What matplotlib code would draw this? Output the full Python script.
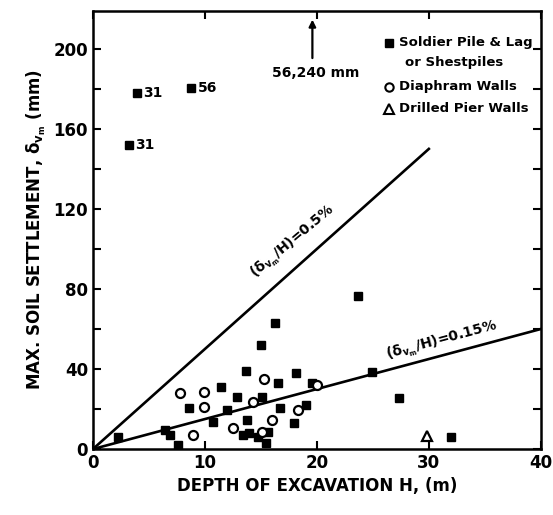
import matplotlib
matplotlib.use("Agg")
import matplotlib.pyplot as plt

plt.rcParams["mathtext.default"] = "bf"

# Soldier pile & lagging / sheetpiles
sp_h = [2.2, 6.4, 6.9, 7.6, 8.6, 10.7, 11.4, 12.0, 12.9, 13.4, 13.7, 13.75, 13.9,
        14.7, 15.0, 15.1, 15.5, 15.6, 16.3, 16.5, 16.7, 18.0, 18.1, 19.0, 19.6,
        23.7, 24.9, 27.3, 32.0, 3.9, 3.2, 8.8]
sp_d = [6, 9.5, 7, 2, 20.5, 13.5, 31, 19.5, 26, 7, 39, 14.5, 8,
        6, 52, 26, 3, 8.5, 63, 33, 20.5, 13, 38, 22, 33,
        76.5, 38.5, 25.5, 6, 178, 152, 180.5]

# diaphragm walls
dw_h = [7.8, 9.9, 9.9, 8.9, 12.5, 14.3, 15.3, 15.1, 16.0, 18.3, 20.0]
dw_d = [28, 28.5, 21, 7, 10.5, 23.5, 35, 8.5, 14.5, 19.5, 32]

# drilled pier walls
dp_h = [29.8]
dp_d = [6.5]

# labelled outliers
out_h = [3.9, 3.2, 8.8]
out_d = [178, 152, 180.5]
out_lbl = ["31", "31", "56"]

# limit lines (ratio in %)
line_ratio = [0.5, 0.15]
line_hmax = [30, 40]

bold = dict(fontweight="bold", family="DejaVu Sans")

fig = plt.figure(figsize=(5.53, 5.15), dpi=100)
ax = fig.add_axes([0.168, 0.128, 0.810, 0.851])

for r, hm in zip(line_ratio, line_hmax):
    ax.plot([0, hm], [0, r * 10 * hm], color="black", lw=1.9, zorder=2)

ax.plot(sp_h, sp_d, "s", color="black", ms=6, zorder=3)
ax.plot(dw_h, dw_d, "o", mfc="white", mec="black", mew=1.6, ms=6.5, zorder=4)
ax.plot(dp_h, dp_d, "^", mfc="white", mec="black", mew=1.6, ms=7, zorder=4)

for h, d, t in zip(out_h, out_d, out_lbl):
    ax.text(h + 0.6, d, t, va="center", ha="left", fontsize=10, **bold)

# off-scale point
ax.annotate("", xy=(19.6, 216), xytext=(19.6, 194),
            arrowprops=dict(arrowstyle="-|>", color="black", lw=1.6,
                            mutation_scale=10))
ax.text(19.9, 188, "56,240 mm", ha="center", va="center", fontsize=10, **bold)

ax.text(17.9, 103.5, r"$(\delta_{v_m}/H)$=0.5%", rotation=40, ha="center",
        va="center", fontsize=10, **bold)
ax.text(31.2, 54, r"$(\delta_{v_m}/H)$=0.15%", rotation=15, ha="center",
        va="center", fontsize=10, **bold)

# legend as text
lx = 26.4
ax.plot([lx], [203], "s", color="black", ms=6)
ax.text(lx + 0.9, 203, "Soldier Pile & Lag", va="center", fontsize=9.5, **bold)
ax.text(lx + 1.5, 193, "or Shestpiles", va="center", fontsize=9.5, **bold)
ax.plot([lx], [181], "o", mfc="white", mec="black", mew=1.5, ms=6)
ax.text(lx + 0.9, 181, "Diaphram Walls", va="center", fontsize=9.5, **bold)
ax.plot([lx], [170], "^", mfc="white", mec="black", mew=1.5, ms=6.5)
ax.text(lx + 0.9, 170, "Drilled Pier Walls", va="center", fontsize=9.5, **bold)

ax.set_xlim(0, 40)
ax.set_ylim(0, 219)
ax.set_xticks([0, 10, 20, 30, 40])
ax.set_yticks([0, 40, 80, 120, 160, 200])
ax.set_yticks(range(20, 220, 40), minor=True)
ax.tick_params(which="both", direction="in", top=True, right=True,
               length=6, width=1.5, labelsize=12)
for lab in ax.get_xticklabels() + ax.get_yticklabels():
    lab.set_fontweight("bold")
for s in ax.spines.values():
    s.set_linewidth(1.8)

ax.set_xlabel("DEPTH OF EXCAVATION H, (m)", fontsize=12, **bold)
ax.set_ylabel(r"MAX. SOIL SETTLEMENT, $\delta_{v_m}$ (mm)", fontsize=12, **bold)

fig.savefig("out.png", dpi=100)
